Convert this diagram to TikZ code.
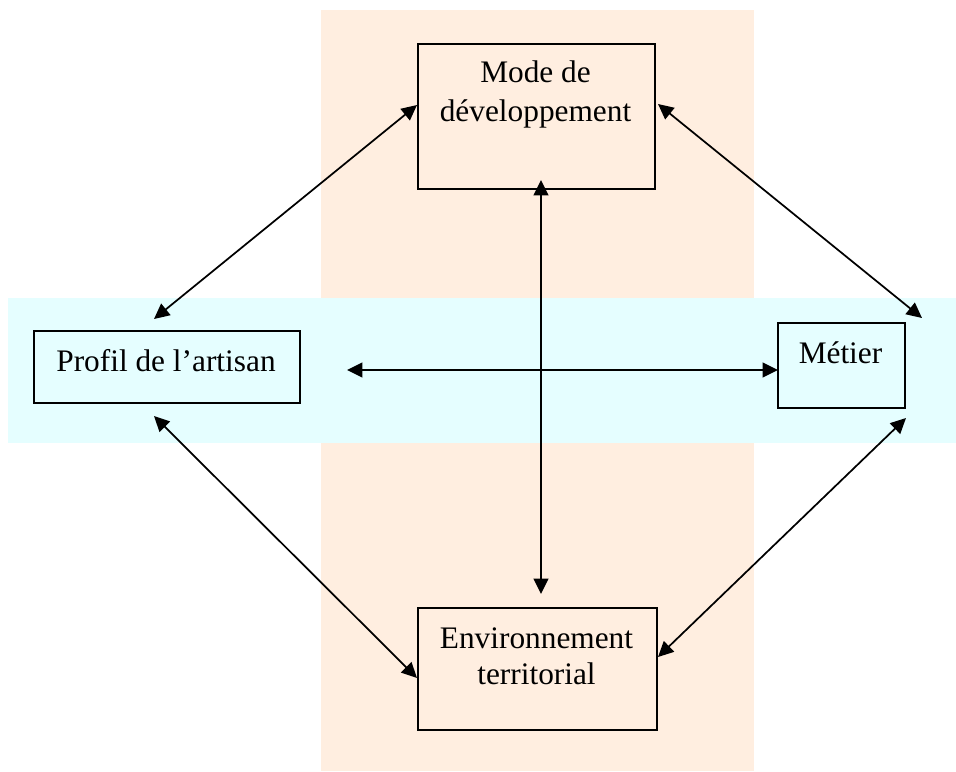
\documentclass[tikz,border=0pt]{standalone}
\usepackage{fontspec}
\setmainfont{Liberation Serif}
\usetikzlibrary{arrows.meta}
\definecolor{peach}{RGB}{255,238,224}
\definecolor{cyanband}{RGB}{229,254,255}
\begin{document}
\begin{tikzpicture}[x=0.75pt,y=-0.75pt,
  box/.style={draw=black, line width=1.5pt, inner sep=0pt, anchor=north west},
  lbl/.style={font=\fontsize{23.5}{28}\selectfont, inner sep=0pt, anchor=base},
  link/.style={line width=1.3pt, {Triangle[length=11.5pt,width=11pt]}-{Triangle[length=11.5pt,width=11pt]}}]
\useasboundingbox (0,0) rectangle (956,771);
\fill[peach] (321,10) rectangle (754,771);
\fill[cyanband] (8,298) rectangle (956,443);
% boxes
\node[box, minimum width=177.75pt, minimum height=108.75pt] (mode) at (417,43) {};
\node[box, minimum width=199.5pt, minimum height=54pt] (profil) at (33,330) {};
\node[box, minimum width=95.25pt, minimum height=63.75pt] (metier) at (777,322) {};
\node[box, minimum width=179.25pt, minimum height=91.5pt] (env) at (417,607) {};
% labels
\node[lbl] (mode1) at (535.5,82) {Mode de};
\node[lbl] (mode2) at (535.5,121) {développement};
\node[lbl] (prof) at (166,371) {Profil de l’artisan};
\node[lbl] (met) at (840.5,363) {Métier};
\node[lbl] (env1) at (536.5,648) {Environnement};
\node[lbl] (env2) at (536.5,684) {territorial};
% arrow ends
\coordinate (a1s) at (154,319); \coordinate (a1e) at (417,105);
\coordinate (a2s) at (658,104); \coordinate (a2e) at (922,318);
\coordinate (a3s) at (541,180); \coordinate (a3e) at (541,594);
\coordinate (a4s) at (347,370); \coordinate (a4e) at (778,370);
\coordinate (a5s) at (154,416); \coordinate (a5e) at (417,678);
\coordinate (a6s) at (906,418); \coordinate (a6e) at (658,657);
\draw[link] (a1s) -- (a1e);
\draw[link] (a2s) -- (a2e);
\draw[link] (a3s) -- (a3e);
\draw[link] (a4s) -- (a4e);
\draw[link] (a5s) -- (a5e);
\draw[link] (a6s) -- (a6e);
\end{tikzpicture}
\end{document}
